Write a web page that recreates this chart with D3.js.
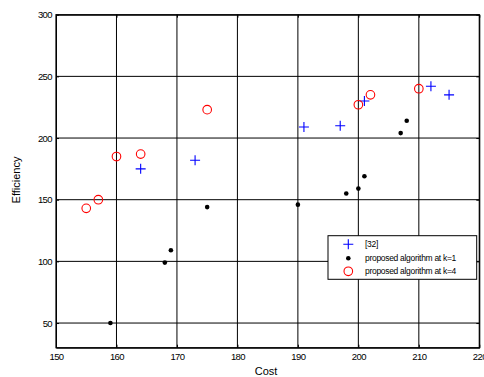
<!DOCTYPE html>
<html><head><meta charset="utf-8">
<script src="https://cdn.jsdelivr.net/npm/d3@7"></script>
<style>body{margin:0;background:#fff;} svg{display:block;}</style>
</head><body>
<svg id="c" width="484" height="377"></svg>
<script>
const xTicks = [150,160,170,180,190,200,210,220];
const yTicks = [50,100,150,200,250,300];
const ref32 = [[164,175],[173,182],[191,209],[197,210],[201,230],[212,242],[215,235]];
const k1 = [[159,50],[168,99],[169,109],[175,144],[190,146],[198,155],[200,159],[201,169],[207,204],[208,214]];
const k4 = [[155,143],[157,150],[160,185],[164,187],[175,223],[200,227],[202,235],[210,240]];
const legendLabels = ["[32]","proposed algorithm at k=1","proposed algorithm at k=4"];

const svg = d3.select("#c");
const L=56, R=479.3, T=14.7, B=347.7;
const x = d3.scaleLinear().domain([150,220]).range([L,R]);
const y = d3.scaleLinear().domain([30,300]).range([B,T]);
const font = "Arial, 'Liberation Sans', sans-serif";

// grid
const g = svg.append("g");
g.selectAll(".gx").data(xTicks.slice(1,-1)).enter().append("line")
 .attr("x1",d=>x(d)).attr("x2",d=>x(d)).attr("y1",T).attr("y2",B)
 .attr("stroke","#000").attr("stroke-width",1);
g.selectAll(".gy").data(yTicks.slice(0,-1)).enter().append("line")
 .attr("y1",d=>y(d)).attr("y2",d=>y(d)).attr("x1",L).attr("x2",R)
 .attr("stroke","#000").attr("stroke-width",1);

// axes
const xa = svg.append("g").attr("transform",`translate(0,${B})`)
 .call(d3.axisBottom(x).tickValues(xTicks).tickSize(-3).tickPadding(6).tickSizeOuter(0));
const ya = svg.append("g").attr("transform",`translate(${L},0)`)
 .call(d3.axisLeft(y).tickValues(yTicks).tickSize(-3).tickPadding(4).tickSizeOuter(0));
svg.append("g").attr("transform",`translate(0,${T})`)
 .call(d3.axisTop(x).tickValues(xTicks).tickSize(-3).tickFormat("").tickSizeOuter(0));
svg.append("g").attr("transform",`translate(${R},0)`)
 .call(d3.axisRight(y).tickValues(yTicks).tickSize(-3).tickFormat("").tickSizeOuter(0));
svg.selectAll(".domain").attr("stroke","#000");
svg.selectAll(".tick line").attr("stroke","#000");
svg.selectAll(".tick text").attr("font-family",font).attr("font-size","9.5px")
 .attr("letter-spacing","-0.6px").attr("fill","#000");
svg.append("rect").attr("x",L).attr("y",T).attr("width",R-L).attr("height",B-T)
 .attr("fill","none").attr("stroke","#000").attr("stroke-width",1.2);

// labels
svg.append("text").attr("x",266).attr("y",375).attr("text-anchor","middle")
 .attr("font-family",font).attr("font-size","11px").text("Cost");
svg.append("text").attr("transform","translate(20,180) rotate(-90)").attr("text-anchor","middle")
 .attr("font-family",font).attr("font-size","11px").text("Efficiency");

// marks
function plus(sel, s){ sel.append("path").attr("d",`M${-s},0H${s}M0,${-s}V${s}`).attr("stroke","#0000ff").attr("stroke-width",1.1).attr("fill","none"); }
const pts = svg.append("g");
pts.selectAll(".p").data(ref32).enter().append("g")
 .attr("transform",d=>`translate(${x(d[0])},${y(d[1])})`).each(function(){ plus(d3.select(this),5); });
pts.selectAll(".d").data(k1).enter().append("circle")
 .attr("cx",d=>x(d[0])).attr("cy",d=>y(d[1])).attr("r",2.3).attr("fill","#000");
pts.selectAll(".o").data(k4).enter().append("circle")
 .attr("cx",d=>x(d[0])).attr("cy",d=>y(d[1])).attr("r",4.3).attr("fill","none").attr("stroke","#ff0000").attr("stroke-width",1.1);

// legend
const lg = svg.append("g");
lg.append("rect").attr("x",328).attr("y",235.7).attr("width",148.7).attr("height",43.6)
 .attr("fill","#fff").attr("stroke","#000").attr("stroke-width",1);
const ly = [244.3,258.3,271.3];
const mx = 348.3;
plus(lg.append("g").attr("transform",`translate(${mx},${ly[0]})`),5);
lg.append("circle").attr("cx",mx).attr("cy",ly[1]).attr("r",2.3).attr("fill","#000");
lg.append("circle").attr("cx",mx).attr("cy",ly[2]).attr("r",4.3).attr("fill","none").attr("stroke","#ff0000").attr("stroke-width",1.1);
lg.selectAll(".lt").data(legendLabels).enter().append("text")
 .attr("x",365).attr("y",(d,i)=>ly[i]+3).attr("font-family",font).attr("font-size","8.5px")
 .attr("letter-spacing","-0.3px").text(d=>d);
</script>
</body></html>
